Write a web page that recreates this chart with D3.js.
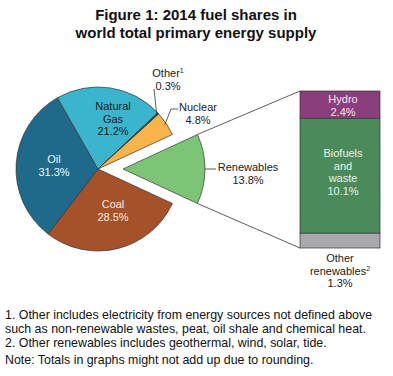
<!DOCTYPE html>
<html>
<head>
<meta charset="utf-8">
<script src="https://cdn.jsdelivr.net/npm/d3@7"></script>
<style>
  body { margin: 0; background: #fff; }
  svg text { font-family: "Liberation Sans", Arial, sans-serif; }
</style>
</head>
<body>
<svg id="chart" width="393" height="376"></svg>
<script>
// fuel shares, clockwise from the exploded renewables slice
var fuels = ["Renewables", "Coal", "Oil", "Natural Gas", "Other", "Nuclear"];
var shares = [13.8, 28.5, 31.3, 21.2, 0.3, 4.8];
var fuelColors = ["#7cc577", "#a5522b", "#1f6a8b", "#3bb5cd", "#2d4a55", "#f9b34b"];

// renewables breakdown, top to bottom
var renewParts = ["Hydro", "Biofuels and waste", "Other renewables"];
var renewShares = [2.4, 10.1, 1.3];
var renewColors = ["#8b3e7c", "#4b8a5a", "#a9a9ac"];

var titleLines = ["Figure 1: 2014 fuel shares in", "world total primary energy supply"];
var notes = [
  "1. Other includes electricity from energy sources not defined above",
  "such as non-renewable wastes, peat, oil shale and chemical heat.",
  "2. Other renewables includes geothermal, wind, solar, tide.",
  "Note: Totals in graphs might not add up due to rounding."
];

var svg = d3.select("#chart");

svg.selectAll("text.title").data(titleLines).enter().append("text")
  .attr("class", "title")
  .attr("x", 196).attr("y", function(d, i){ return 20 + i * 18; })
  .attr("text-anchor", "middle")
  .attr("font-size", 15).attr("font-weight", "bold").attr("fill", "#111")
  .text(function(d){ return d; });

var cx = 98, cy = 169, R = 82, explode = 25;
var total = d3.sum(shares);
var renAngle = shares[0] / total * 2 * Math.PI;
var start = Math.PI / 2 - renAngle / 2;

var pie = d3.pie().sort(null).value(function(d){ return d; })
  .startAngle(start).endAngle(start + 2 * Math.PI);
var arcs = pie(shares);
var arc = d3.arc().innerRadius(0).outerRadius(R);

var g = svg.append("g").attr("transform", "translate(" + cx + "," + cy + ")");
g.selectAll("path").data(arcs).enter().append("path")
  .attr("d", arc)
  .attr("transform", function(d, i){ return i == 0 ? "translate(" + explode + ",0)" : null; })
  .attr("fill", function(d, i){ return fuelColors[i]; })
  .attr("stroke", "#333").attr("stroke-width", 0.7);

// point on slice edge (d3 angle: clockwise from 12 o'clock)
function pt(a, r, dx){ return [cx + (dx || 0) + r * Math.sin(a), cy - r * Math.cos(a)]; }

// bar for the renewables breakdown
var barX = 300, barW = 80, barTop = 91, barBottom = 248;
var y = d3.scaleLinear().domain([0, d3.sum(renewShares)]).range([barTop, barBottom]);
var cum = [0];
renewShares.forEach(function(v, i){ cum.push(cum[i] + v); });

svg.selectAll("rect.part").data(renewShares).enter().append("rect")
  .attr("class", "part")
  .attr("x", barX).attr("width", barW)
  .attr("y", function(d, i){ return y(cum[i]); })
  .attr("height", function(d, i){ return y(cum[i + 1]) - y(cum[i]); })
  .attr("fill", function(d, i){ return renewColors[i]; })
  .attr("stroke", "#333").attr("stroke-width", 0.7);

// connector lines from slice corners to bar
var topCorner = pt(arcs[0].startAngle, R, explode);
var botCorner = pt(arcs[0].endAngle, R, explode);
svg.append("line").attr("x1", topCorner[0]).attr("y1", topCorner[1])
  .attr("x2", barX).attr("y2", y(0)).attr("stroke", "#333").attr("stroke-width", 0.8);
svg.append("line").attr("x1", botCorner[0]).attr("y1", botCorner[1])
  .attr("x2", barX).attr("y2", y(cum[3])).attr("stroke", "#333").attr("stroke-width", 0.8);

function label(x, y0, lines, color, lh){
  var t = svg.append("text").attr("text-anchor", "middle").attr("font-size", 11).attr("fill", color);
  lines.forEach(function(s, i){
    var ts = t.append("tspan").attr("x", x).attr("y", y0 + i * (lh || 12.5));
    if (s.indexOf("^") >= 0) {
      var p = s.split("^");
      ts.text(p[0]);
      ts.append("tspan").attr("font-size", 7).attr("dy", -4).text(p[1]);
    } else ts.text(s);
  });
}

function fmt(v){ return v.toFixed(1) + "%"; }

// slice labels
label(113, 110, ["Natural", "Gas", fmt(shares[3])], "#1a1a1a");
label(54, 163, ["Oil", fmt(shares[2])], "#eef6fa");
label(113, 208, ["Coal", fmt(shares[1])], "#fbeadb");
label(168, 77, ["Other^1", fmt(shares[4])], "#1a1a1a");
label(198, 111, ["Nuclear", fmt(shares[5])], "#1a1a1a");
label(248, 171, ["Renewables", fmt(shares[0])], "#1a1a1a");

// leader lines
var otherMid = pt((arcs[4].startAngle + arcs[4].endAngle) / 2, R - 2);
svg.append("polyline").attr("points", [otherMid, [154, 89]].join(" "))
  .attr("fill", "none").attr("stroke", "#333").attr("stroke-width", 0.8);
var nucMid = pt((arcs[5].startAngle + arcs[5].endAngle) / 2, R - 2);
svg.append("polyline").attr("points", [nucMid, [171, 109], [178, 109]].join(" "))
  .attr("fill", "none").attr("stroke", "#333").attr("stroke-width", 0.8);
var renMid = pt((arcs[0].startAngle + arcs[0].endAngle) / 2, R, explode);
svg.append("line").attr("x1", renMid[0]).attr("y1", renMid[1])
  .attr("x2", 216).attr("y2", renMid[1]).attr("stroke", "#333").attr("stroke-width", 0.8);

// bar labels
label(343, 103, ["Hydro", fmt(renewShares[0])], "#f4e4f0");
label(343, 157, ["Biofuels", "and", "waste", fmt(renewShares[1])], "#e6f3e6");
label(340, 262, ["Other", "renewables^2", fmt(renewShares[2])], "#1a1a1a");

svg.selectAll("text.note").data(notes).enter().append("text")
  .attr("class", "note")
  .attr("x", 5).attr("y", function(d, i){ return [319, 333, 347, 364][i]; })
  .attr("font-size", 12.4).attr("fill", "#111")
  .text(function(d){ return d; });
</script>
</body>
</html>
